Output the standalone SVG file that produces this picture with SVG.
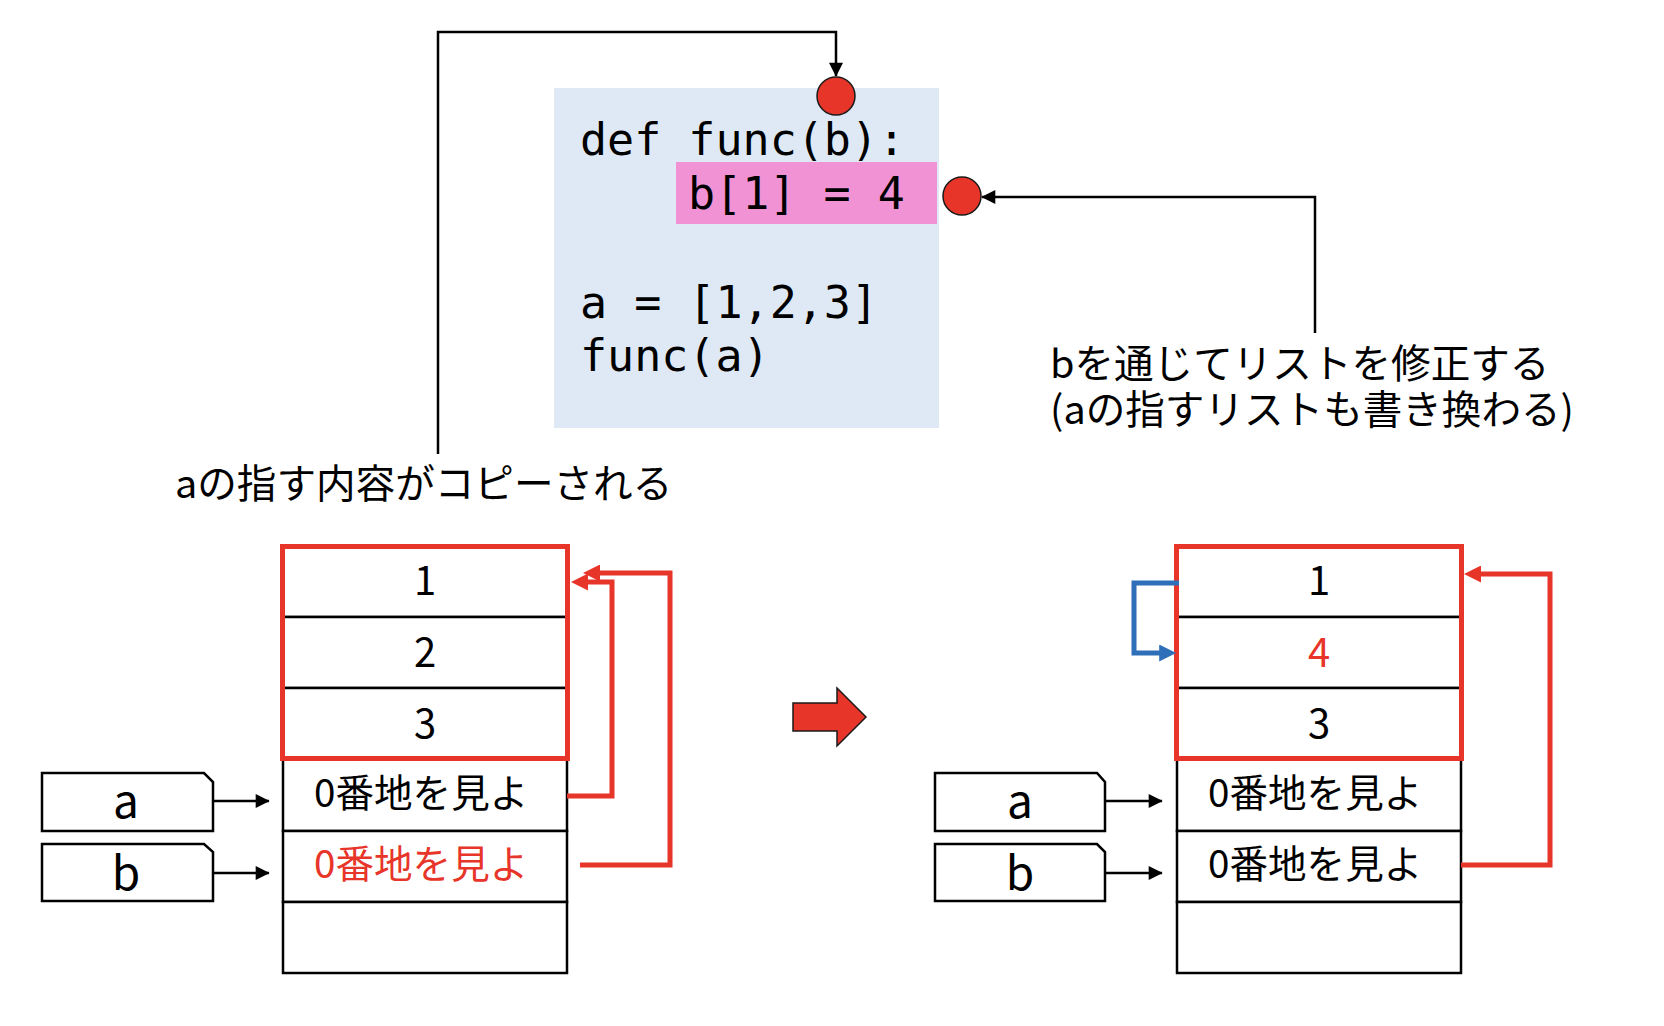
<svg xmlns="http://www.w3.org/2000/svg" width="1664" height="1026" viewBox="0 0 1664 1026">
<defs>
<style>
.ln{fill:none;stroke:#000;stroke-width:2.5}
.cell{fill:#fff;stroke:#000;stroke-width:2.5}
.redbox{fill:none;stroke:#e8352a;stroke-width:5}
.redln{fill:none;stroke:#e8352a;stroke-width:5}
.blueln{fill:none;stroke:#2f6fba;stroke-width:5}
.dot{fill:#e8352a;stroke:#1a1a1a;stroke-width:1.5}
.code{font-family:"DejaVu Sans Mono","Liberation Mono",monospace;font-size:45px;fill:#000}
.jp{font-family:"Noto Sans CJK JP","Noto Sans",sans-serif;font-size:39.6px;fill:#000}
.cellt{font-family:"Noto Sans CJK JP","Noto Sans",sans-serif;font-size:38.6px;fill:#000}
.num{font-family:"Noto Sans CJK JP","Noto Sans",sans-serif;font-size:40px;fill:#000;text-anchor:middle}
.var{font-family:"Noto Sans CJK JP","Noto Sans",sans-serif;font-size:46px;fill:#000;text-anchor:middle}
.red{fill:#e8352a}
</style>
<marker id="ah" viewBox="0 0 10 10" refX="9.5" refY="5" markerWidth="15" markerHeight="14" markerUnits="userSpaceOnUse" orient="auto">
<path d="M0,0 L10,5 L0,10 Z" fill="#000"/>
</marker>
<marker id="ahr" viewBox="0 0 10 10" refX="2" refY="5" markerWidth="17" markerHeight="17" markerUnits="userSpaceOnUse" orient="auto">
<path d="M0,0 L10,5 L0,10 Z" fill="#e8352a"/>
</marker>
<marker id="ahb" viewBox="0 0 10 10" refX="2" refY="5" markerWidth="18" markerHeight="17" markerUnits="userSpaceOnUse" orient="auto">
<path d="M0,0 L10,5 L0,10 Z" fill="#2f6fba"/>
</marker>
</defs>
<rect width="1664" height="1026" fill="#fff"/>

<g id="code">
<rect x="554" y="88" width="385" height="340" fill="#dfe9f5"/>
<rect x="676" y="162" width="261" height="62" fill="#f092d4"/>
<text class="code" x="580" y="155">def func(b):</text>
<text class="code" x="688" y="209">b[1] = 4</text>
<text class="code" x="580" y="318">a = [1,2,3]</text>
<text class="code" x="580" y="371">func(a)</text>
</g>

<g id="dot-top"><circle class="dot" cx="836" cy="96" r="19"/></g>
<g id="dot-right"><circle class="dot" cx="962" cy="196" r="19"/></g>

<g id="label-copy"><text class="jp" x="175" y="498">aの指す内容がコピーされる</text></g>
<g id="label-modify">
<text class="jp" x="1050" y="378">bを通じてリストを修正する<tspan x="1050" dy="46">(aの指すリストも書き換わる)</tspan></text>
</g>

<g id="mem-left">
<rect class="cell" x="283" y="546" width="284" height="71"/>
<rect class="cell" x="283" y="617" width="284" height="71"/>
<rect class="cell" x="283" y="688" width="284" height="71"/>
<rect class="cell" x="283" y="759" width="284" height="72"/>
<rect class="cell" x="283" y="831" width="284" height="71"/>
<rect class="cell" x="283" y="902" width="284" height="71"/>
<rect class="redbox" x="282.5" y="546.5" width="285" height="212"/>
<text class="num" x="425" y="595">1</text>
<text class="num" x="425" y="667">2</text>
<text class="num" x="425" y="738">3</text>
<text class="cellt" x="314" y="807">0番地を見よ</text>
<text class="cellt red" x="314" y="878">0番地を見よ</text>
</g>

<g id="var-a-left">
<path class="cell" d="M42,773 H204 L213,782 V831 H42 Z"/>
<text class="var" x="126" y="818">a</text>
</g>
<g id="var-b-left">
<path class="cell" d="M42,844 H204 L213,852 V901 H42 Z"/>
<text class="var" x="126" y="890">b</text>
</g>

<g id="big-arrow">
<path d="M793,703 H837 V688 L866,717 L837,746 V731 H793 Z" fill="#e8352a" stroke="#1a1a1a" stroke-width="1.5"/>
</g>

<g id="mem-right">
<rect class="cell" x="1177" y="546" width="284" height="71"/>
<rect class="cell" x="1177" y="617" width="284" height="71"/>
<rect class="cell" x="1177" y="688" width="284" height="71"/>
<rect class="cell" x="1177" y="759" width="284" height="72"/>
<rect class="cell" x="1177" y="831" width="284" height="71"/>
<rect class="cell" x="1177" y="902" width="284" height="71"/>
<rect class="redbox" x="1176.5" y="546.5" width="285" height="212"/>
<text class="num" x="1319" y="595">1</text>
<text class="num red" x="1319" y="667">4</text>
<text class="num" x="1319" y="738">3</text>
<text class="cellt" x="1208" y="807">0番地を見よ</text>
<text class="cellt" x="1208" y="878">0番地を見よ</text>
</g>

<g id="var-a-right">
<path class="cell" d="M935,773 H1097 L1105,782 V831 H935 Z"/>
<text class="var" x="1020" y="818">a</text>
</g>
<g id="var-b-right">
<path class="cell" d="M935,844 H1097 L1105,852 V901 H935 Z"/>
<text class="var" x="1020" y="890">b</text>
</g>

<g id="connectors">
<polyline class="ln" points="438,454 438,32 836,32 836,76" marker-end="url(#ah)"/>
<polyline class="ln" points="1315,333 1315,197 982,197" marker-end="url(#ah)"/>
<line class="ln" x1="213" y1="801" x2="269" y2="801" marker-end="url(#ah)"/>
<line class="ln" x1="213" y1="873" x2="269" y2="873" marker-end="url(#ah)"/>
<line class="ln" x1="1105" y1="801" x2="1162" y2="801" marker-end="url(#ah)"/>
<line class="ln" x1="1105" y1="873" x2="1162" y2="873" marker-end="url(#ah)"/>
<polyline class="redln" points="567,796 612,796 612,582 584.6,582" marker-end="url(#ahr)"/>
<polyline class="redln" points="580,865 670,865 670,573 596.6,573" marker-end="url(#ahr)"/>
<polyline class="redln" points="1461,865 1550,865 1550,574 1477.6,574" marker-end="url(#ahr)"/>
<polyline class="blueln" points="1179,583 1134,583 1134,653 1162.6,653" marker-end="url(#ahb)"/>
</g>
</svg>
